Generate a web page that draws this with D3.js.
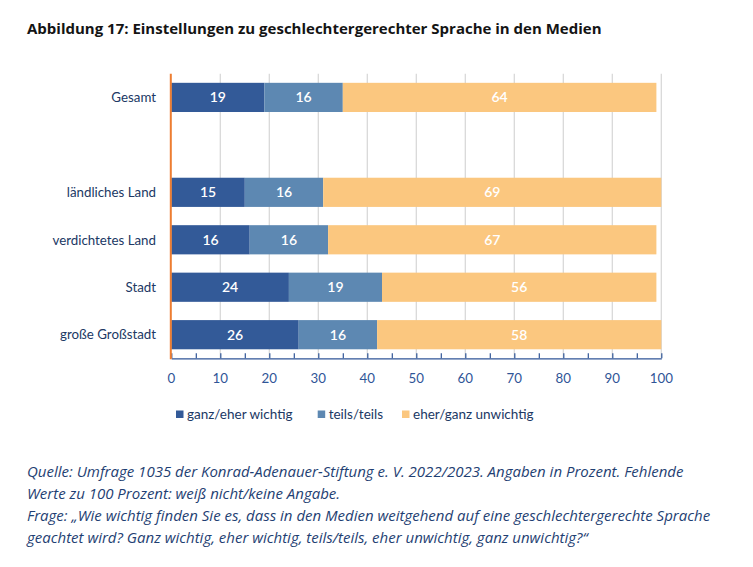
<!DOCTYPE html>
<html><head><meta charset="utf-8">
<script src="https://cdn.jsdelivr.net/npm/d3@7"></script>
<style>
body{margin:0;background:#fff;}
svg{display:block;}
</style></head>
<body>
<svg id="c" width="753" height="567"></svg>
<script>
const categories = ["Gesamt", "", "ländliches Land", "verdichtetes Land", "Stadt", "große Großstadt"];
const seriesNames = ["ganz/eher wichtig", "teils/teils", "eher/ganz unwichtig"];
const wichtig   = [19, null, 15, 16, 24, 26];
const teils     = [16, null, 16, 16, 19, 16];
const unwichtig = [64, null, 69, 67, 56, 58];
const xTicks = [0,10,20,30,40,50,60,70,80,90,100];
const colors = ["#335a98", "#5d88b2", "#fbc77f"];
const title = "Abbildung 17: Einstellungen zu geschlechtergerechter Sprache in den Medien";
const footer = [
 "Quelle: Umfrage 1035 der Konrad-Adenauer-Stiftung e. V. 2022/2023. Angaben in Prozent. Fehlende",
 "Werte zu 100 Prozent: weiß nicht/keine Angabe.",
 "Frage: „Wie wichtig finden Sie es, dass in den Medien weitgehend auf eine geschlechtergerechte Sprache",
 "geachtet wird? Ganz wichtig, eher wichtig, teils/teils, eher unwichtig, ganz unwichtig?“"
];

const svg = d3.select("#c");
const pLeft = 171.3, pRight = 661.3, pTop = 73.8, pBottom = 358.3;
const x = d3.scaleLinear().domain([0,100]).range([pLeft,pRight]);
const y = d3.scaleBand().domain(categories.map((c,i)=>i)).range([pTop,pBottom]).paddingInner(0.385).paddingOuter(0.19);

// title
svg.append("text").attr("x",27).attr("y",34).attr("font-family","Open Sans").attr("font-weight","bold")
  .attr("font-size",15).attr("fill","#141414").text(title);

// grid
svg.append("g").selectAll("line").data(xTicks.slice(1)).join("line")
  .attr("x1",d=>x(d)).attr("x2",d=>x(d)).attr("y1",pTop).attr("y2",pBottom)
  .attr("stroke","#d9d9d9").attr("stroke-width",1.3);

// bars
const data = categories.map((c,i)=>({c,i,v:[wichtig[i],teils[i],unwichtig[i]]})).filter(d=>d.v[0]!=null);
const g = svg.append("g");
data.forEach(d=>{
  let acc=0;
  d.v.forEach((v,k)=>{
    g.append("rect").attr("x",x(acc)).attr("y",y(d.i)).attr("width",x(acc+v)-x(acc)).attr("height",y.bandwidth())
      .attr("fill",colors[k]);
    g.append("text").attr("x",x(acc+v/2)).attr("y",y(d.i)+y.bandwidth()/2).attr("dy","0.36em")
      .attr("text-anchor","middle").attr("font-family","Lato").attr("font-weight","600").attr("font-size",14)
      .attr("fill","#ffffff").text(v);
    acc+=v;
  });
});

// category labels
svg.append("g").selectAll("text").data(data).join("text")
  .attr("x",156).attr("y",d=>y(d.i)+y.bandwidth()/2).attr("dy","0.36em").attr("text-anchor","end")
  .attr("font-family","Lato").attr("font-size",13.3).attr("fill","#203864").text(d=>d.c);

// x axis
const ax = svg.append("g").attr("transform",`translate(0,${pBottom})`)
  .call(d3.axisBottom(x).tickValues(d3.range(0,101,5)).tickSizeInner(-5).tickSizeOuter(0).tickFormat(""));
ax.select(".domain").attr("stroke","#2f5597").attr("stroke-width",1.3);
ax.selectAll(".tick line").attr("stroke","#2f5597").attr("stroke-width",1.2);
svg.append("g").selectAll("text").data(xTicks).join("text")
  .attr("x",d=>x(d)).attr("y",383).attr("text-anchor","middle").attr("font-family","Lato").attr("font-size",13.3)
  .attr("fill","#2f5597").text(d=>d);

// orange zero line
svg.append("line").attr("x1",x(0)-0.5).attr("x2",x(0)-0.5).attr("y1",pTop).attr("y2",pBottom+1)
  .attr("stroke","#ed7d31").attr("stroke-width",2);

// legend
const legX = [176, 317.7, 402];
const leg = svg.append("g");
seriesNames.forEach((n,k)=>{
  leg.append("rect").attr("x",legX[k]).attr("y",410.5).attr("width",7.5).attr("height",7.5).attr("fill",colors[k]);
  leg.append("text").attr("x",legX[k]+11).attr("y",418.5).attr("font-family","Lato").attr("font-size",13.5)
    .attr("fill","#203864").text(n);
});

// footer
svg.append("g").selectAll("text").data(footer).join("text")
  .attr("x",27).attr("y",(d,i)=>476.5+i*22.3).attr("font-family","Open Sans").attr("font-style","italic")
  .attr("font-size",15).attr("fill","#1f3f73").text(d=>d);
</script>
</body></html>
